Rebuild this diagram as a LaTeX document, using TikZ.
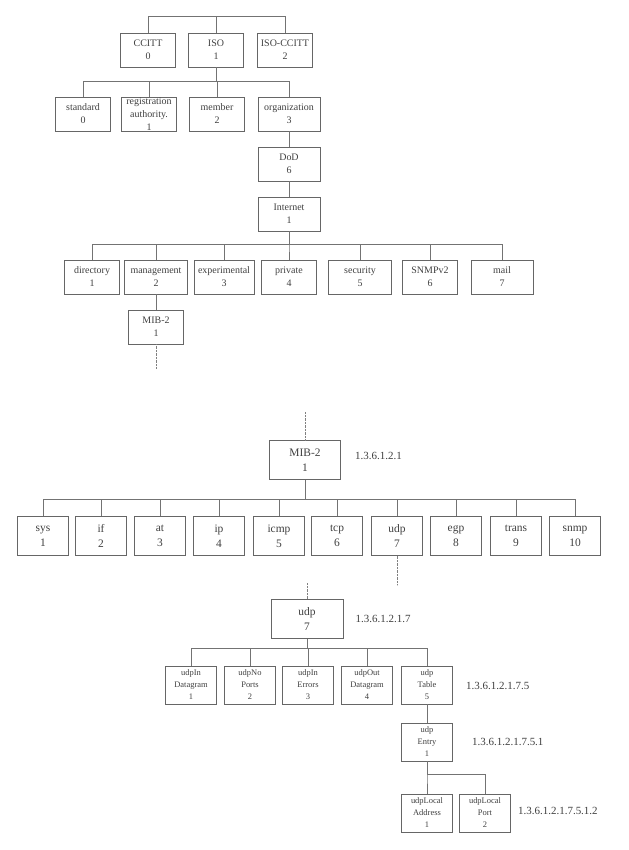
\documentclass[tikz,border=0pt]{standalone}
\usepackage{fontspec}
\setmainfont{Liberation Serif}
\usetikzlibrary{positioning}

\begin{document}
\begin{tikzpicture}[x=1bp,y=-1bp,
  box/.style={rectangle,draw=black!60,align=center,inner sep=0pt,text=black!75},
  top/.style={box,minimum width=55bp,minimum height=34bp,font=\fontsize{10}{13}\selectfont},
  mib/.style={box,minimum width=51bp,minimum height=39bp,font=\fontsize{11.5}{15}\selectfont},
  grp/.style={box,minimum width=51bp,minimum height=38bp,font=\fontsize{8.5}{12}\selectfont},
  oid/.style={anchor=west,text=black!75,font=\fontsize{11}{13}\selectfont},
  link/.style={draw=black!55},
  cut/.style={draw=black!50,densely dotted}]
\useasboundingbox (0,0) rectangle (629,850);

% first level
\path (148,50) node[top] (ccitt){CCITT\\0};
\path (216,50) node[top] (iso){ISO\\1};
\path (285,50) node[top] (isoccitt){ISO-CCITT\\2};
\draw[link] (ccitt.north) -- ++(0,-17) -| (isoccitt.north);
\draw[link] (iso.north) -- ++(0,-17);

% under ISO
\path (83,114) node[top] (std){standard\\0};
\path (149,114) node[top] (reg){registration\\authority.\\1};
\path (217,114) node[top] (member){member\\2};
\path (289,114) node[top,minimum width=62bp] (org){organization\\3};
\foreach \c in {std,reg,member,org}
  \draw[link] (iso.south) -- ++(0,14) -| (\c.north);

\path (289,164) node[top,minimum width=62bp] (dod){DoD\\6};
\draw[link] (org) -- (dod);
\path (289,214) node[top,minimum width=62bp] (internet){Internet\\1};
\draw[link] (dod) -- (internet);

% under Internet
\path (92,277) node[top] (dir){directory\\1};
\path (156,277) node[top,minimum width=63bp] (mgmt){management\\2};
\path (224,277) node[top,minimum width=60bp] (exp){experimental\\3};
\path (289,277) node[top] (priv){private\\4};
\path (360,277) node[top,minimum width=63bp] (sec){security\\5};
\path (430,277) node[top] (snmpv){SNMPv2\\6};
\path (502,277) node[top,minimum width=62bp] (mail){mail\\7};
\foreach \c in {dir,mgmt,exp,priv,sec,snmpv,mail}
  \draw[link] (internet.south) -- ++(0,13) -| (\c.north);

\path (156,327) node[top] (mibA){MIB-2\\1};
\draw[link] (mgmt) -- (mibA);
\coordinate (mibAcut) at (156,368);
\draw[cut] (mibA.south) -- (mibAcut);

% MIB-2 subtree
\path (305,460) node[mib,minimum width=71bp] (mibB){MIB-2\\1};
\path (mibB.east) ++(11,-4) node[oid] (oidmib){1.3.6.1.2.1};
\coordinate (mibBcut) at (305,412);
\draw[cut] (mibBcut) -- (mibB.north);

\path (43,536) node[mib] (sys){sys\\1};
\path (101,536) node[mib] (if){if\\2};
\path (160,536) node[mib] (at){at\\3};
\path (219,536) node[mib] (ip){ip\\4};
\path (279,536) node[mib] (icmp){icmp\\5};
\path (337,536) node[mib] (tcp){tcp\\6};
\path (397,536) node[mib] (udp){udp\\7};
\path (456,536) node[mib] (egp){egp\\8};
\path (516,536) node[mib] (trans){trans\\9};
\path (575,536) node[mib] (snmp){snmp\\10};
\foreach \c in {sys,if,at,ip,icmp,tcp,udp,egp,trans,snmp}
  \draw[link] (mibB.south) -- ++(0,19) -| (\c.north);
\coordinate (udpcut) at (397,585);
\draw[cut] (udp.south) -- (udpcut);

% udp subtree
\path (307,619) node[mib,minimum width=72bp] (udpB){udp\\7};
\path (udpB.east) ++(9,0) node[oid] (oidudp){1.3.6.1.2.1.7};
\coordinate (udpBcut) at (307,583);
\draw[cut] (udpBcut) -- (udpB.north);

\path (191,685) node[grp] (indg){udpIn\\Datagram\\1};
\path (250,685) node[grp] (noports){udpNo\\Ports\\2};
\path (308,685) node[grp] (inerr){udpIn\\Errors\\3};
\path (367,685) node[grp] (outdg){udpOut\\Datagram\\4};
\path (427,685) node[grp] (table){udp\\Table\\5};
\foreach \c in {indg,noports,inerr,outdg,table}
  \draw[link] (udpB.south) -- ++(0,9) -| (\c.north);
\path (table.east) ++(10,1) node[oid] (oidtable){1.3.6.1.2.1.7.5};

\path (427,742) node[grp] (entry){udp\\Entry\\1};
\draw[link] (table) -- (entry);
\path (entry.east) ++(16,0) node[oid] (oidentry){1.3.6.1.2.1.7.5.1};

\path (427,813) node[grp] (laddr){udpLocal\\Address\\1};
\path (485,813) node[grp] (lport){udpLocal\\Port\\2};
\foreach \c in {laddr,lport}
  \draw[link] (entry.south) -- ++(0,13) -| (\c.north);
\path (lport.east) ++(4,-2) node[oid] (oidport){1.3.6.1.2.1.7.5.1.2};
\end{tikzpicture}
\end{document}
